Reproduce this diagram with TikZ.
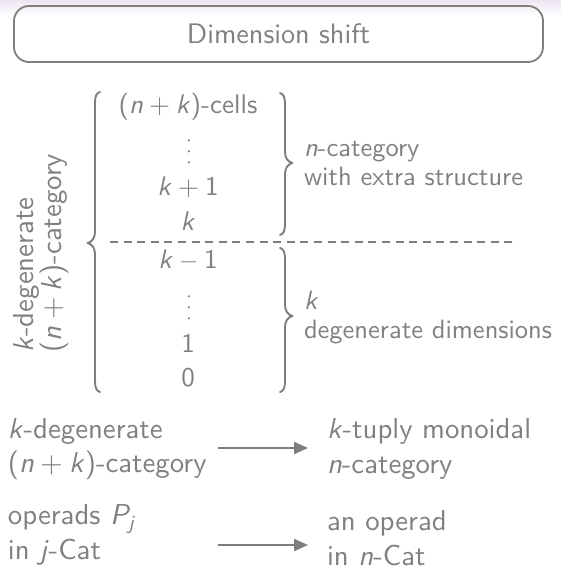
\documentclass[tikz,border=0pt]{standalone}
\usepackage{amsmath}
\usepackage{fontspec}
\setsansfont{lmsans10-regular.otf}[ItalicFont=lmsans10-oblique.otf,SlantedFont=lmsans10-oblique.otf]
\usetikzlibrary{arrows.meta}
\definecolor{tx}{RGB}{128,128,128}
\definecolor{ln}{RGB}{126,126,126}
\definecolor{lav}{RGB}{237,230,242}
\newcommand\mv[1]{\textit{#1}}
\newcommand\pls{\hspace{.22em}+\hspace{.22em}}
\newcommand\mns{\hspace{.22em}\raisebox{0pt}{$-$}\hspace{.22em}}
\newcommand\vdts{\fontsize{7.5}{11.5}\selectfont\begin{tabular}{@{}c@{}}\textbullet\\[-0.2pt]\textbullet\\[-0.2pt]\textbullet\end{tabular}}
\begin{document}
\begin{tikzpicture}[x=1pt,y=-1pt,
  base/.style={text=tx,inner sep=0pt,outer sep=0pt},
  col/.style={base,font=\sffamily\fontsize{27}{32}\selectfont,anchor=base},
  side/.style={base,font=\sffamily\fontsize{26.5}{29}\selectfont,align=left,anchor=west},
  low/.style={base,font=\sffamily\fontsize{28.8}{34.5}\selectfont,align=left,anchor=west},
  br/.style={draw=ln,line width=1.9pt,line cap=round,line join=round},
  arr/.style={draw=ln,line width=2.2pt,-{Triangle[length=14pt,width=12pt]}}]
\useasboundingbox (0,0) rectangle (561,578);
\shade[top color=lav,bottom color=white] (0,0) rectangle (561,16);
% title
\node[base,draw=ln,line width=1.8pt,rounded corners=15pt,minimum width=529pt,minimum height=56pt,
      font=\sffamily\fontsize{28.2}{32}\selectfont] (title) at (278.5,34) {Dimension shift};
% rotated label
\node[base,font=\sffamily\fontsize{28.8}{25.5}\selectfont,align=left,rotate=90] (rot) at (41,253)
  {\mv{k}-degenerate\\(\mv{n}\pls\mv{k})-category};
% column
\node[col] (c1) at (188,113) {(\mv{n}\pls\mv{k})-cells};
\node[base,text=ln] (c2) at (189,151) {\vdts};
\node[col] (c3) at (188,195) {\mv{k}\pls1};
\node[col] (c4) at (188,230) {\mv{k}};
\node[col] (c5) at (188,268) {\mv{k}\mns1};
\node[base,text=ln] (c6) at (189,307) {\vdts};
\node[col] (c7) at (188,352) {1};
\node[col] (c8) at (188,386) {0};
% dashed separator
\coordinate (d1) at (110,242);
\coordinate (d2) at (518,242);
\draw[ln,line width=1.8pt,dash pattern=on 8pt off 5.6pt] (d1) -- (d2);
% braces
\draw[br] (100,92) .. controls (96.5,93) and (95,96) .. (95,103) -- (95,232)
  .. controls (95,238) and (92,242) .. (87.5,243)
  .. controls (92,244) and (95,248) .. (95,254) -- (95,381)
  .. controls (95,388) and (96.5,391) .. (100,392);
\draw[br] (280,93) .. controls (283.5,94) and (285,97) .. (285,104) -- (285,152)
  .. controls (285,158) and (288,162) .. (292.5,163)
  .. controls (288,164) and (285,168) .. (285,174) -- (285,224)
  .. controls (285,231) and (283.5,234) .. (280,235);
\draw[br] (280,248) .. controls (283.5,249) and (285,252) .. (285,259) -- (285,305)
  .. controls (285,311) and (288,315) .. (292.5,316)
  .. controls (288,317) and (285,321) .. (285,327) -- (285,381)
  .. controls (285,388) and (283.5,391) .. (280,392);
% side labels
\node[side] (s1) at (304,164) {\mv{n}-category\\with extra structure};
\node[side] (s2) at (304,318) {\mv{k}\\degenerate dimensions};
% bottom rows
\node[low] (l1) at (8,449) {\mv{k}-degenerate\\(\mv{n}\pls\mv{k})-category};
\node[low] (r1) at (327,449) {\mv{k}-tuply monoidal\\\mv{n}-category};
\node[low] (l2) at (8,535) {operads $\mv{P}_{\mv{j}}$\\in \mv{j}-Cat};
\node[low] (r2) at (327,538) {an operad\\in \mv{n}-Cat};
\coordinate (a1s) at (218,448);
\coordinate (a1e) at (308,448);
\coordinate (a2s) at (218,545);
\coordinate (a2e) at (308,545);
\draw[arr] (a1s) -- (a1e);
\draw[arr] (a2s) -- (a2e);
\end{tikzpicture}
\end{document}
